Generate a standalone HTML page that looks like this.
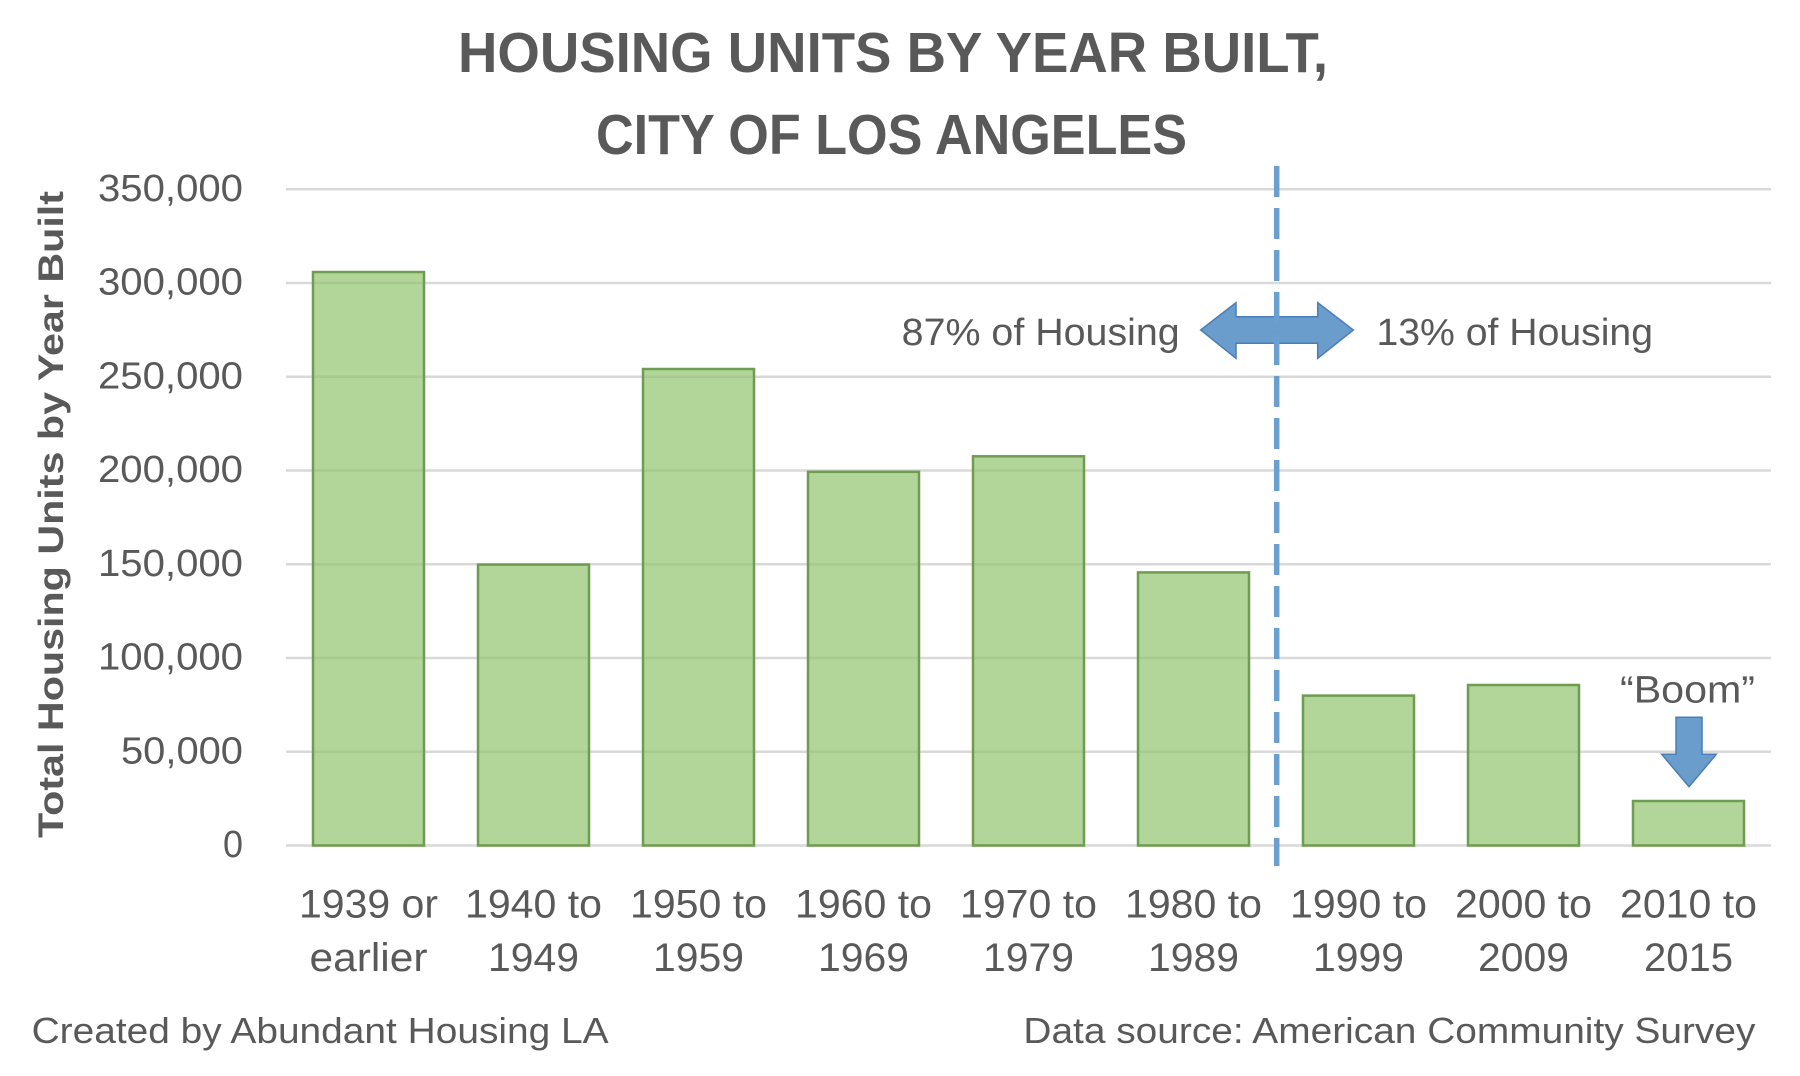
<!DOCTYPE html>
<html>
<head>
<meta charset="utf-8">
<style>
  html, body { margin: 0; padding: 0; background: #ffffff; }
  svg { display: block; }
  text { fill: #595959; font-family: "Liberation Sans", "DejaVu Sans", sans-serif; }
</style>
</head>
<body>
<svg width="1800" height="1076" viewBox="0 0 1800 1076" xmlns="http://www.w3.org/2000/svg">
  <rect x="0" y="0" width="1800" height="1076" fill="#ffffff"/>

  <!-- Title -->
  <text x="458" y="72" font-size="57" font-weight="bold" textLength="870" lengthAdjust="spacingAndGlyphs">HOUSING UNITS BY YEAR BUILT,</text>
  <text x="596" y="154" font-size="57" font-weight="bold" textLength="591" lengthAdjust="spacingAndGlyphs">CITY OF LOS ANGELES</text>

  <!-- Gridlines -->
  <g stroke="#d9d9d9" stroke-width="2.5">
    <line x1="286" y1="189.3" x2="1771" y2="189.3"/>
    <line x1="286" y1="283.0" x2="1771" y2="283.0"/>
    <line x1="286" y1="376.8" x2="1771" y2="376.8"/>
    <line x1="286" y1="470.5" x2="1771" y2="470.5"/>
    <line x1="286" y1="564.3" x2="1771" y2="564.3"/>
    <line x1="286" y1="658.0" x2="1771" y2="658.0"/>
    <line x1="286" y1="751.8" x2="1771" y2="751.8"/>
    <line x1="286" y1="845.5" x2="1771" y2="845.5"/>
  </g>

  <!-- Y tick labels -->
  <g font-size="38" text-anchor="end">
    <text x="243" y="201" textLength="145" lengthAdjust="spacingAndGlyphs">350,000</text>
    <text x="243" y="294.5" textLength="145" lengthAdjust="spacingAndGlyphs">300,000</text>
    <text x="243" y="388.3" textLength="145" lengthAdjust="spacingAndGlyphs">250,000</text>
    <text x="243" y="482" textLength="145" lengthAdjust="spacingAndGlyphs">200,000</text>
    <text x="243" y="575.8" textLength="145" lengthAdjust="spacingAndGlyphs">150,000</text>
    <text x="243" y="669.5" textLength="145" lengthAdjust="spacingAndGlyphs">100,000</text>
    <text x="243" y="763.3" textLength="122" lengthAdjust="spacingAndGlyphs">50,000</text>
    <text x="243" y="857" textLength="20" lengthAdjust="spacingAndGlyphs">0</text>
  </g>

  <!-- Y axis title -->
  <text transform="translate(63,838) rotate(-90)" font-family="'DejaVu Sans', 'Liberation Sans', sans-serif" font-size="35" font-weight="bold" textLength="647" lengthAdjust="spacingAndGlyphs">Total Housing Units by Year Built</text>

  <!-- Bars -->
  <g fill="rgb(146,195,111)" fill-opacity="0.7" stroke="#6e9c50" stroke-width="2.5">
    <rect x="313" y="272.0" width="111" height="573.5"/>
    <rect x="478" y="564.6" width="111" height="280.9"/>
    <rect x="643" y="369.0" width="111" height="476.5"/>
    <rect x="808" y="471.8" width="111" height="373.7"/>
    <rect x="973" y="456.3" width="111" height="389.2"/>
    <rect x="1138" y="572.4" width="111" height="273.1"/>
    <rect x="1303" y="695.6" width="111" height="149.9"/>
    <rect x="1468" y="685.0" width="111" height="160.5"/>
    <rect x="1633" y="801.0" width="111" height="44.5"/>
  </g>

  <!-- Double arrow -->
  <polygon points="1200.7,330 1236,302.7 1236,316.7 1317.7,316.7 1317.7,302.7 1353.3,330 1317.7,358.3 1317.7,343.3 1236,343.3 1236,358.3"
           fill="#6a9dcc" stroke="#4a7eb8" stroke-width="1.5"/>

  <!-- Dashed divider -->
  <line x1="1276.7" y1="166" x2="1276.7" y2="866" stroke="#6b9fcf" stroke-width="5.5" stroke-dasharray="31 11"/>

  <!-- Annotations -->
  <text x="901.7" y="345" font-size="38" textLength="278" lengthAdjust="spacingAndGlyphs">87% of Housing</text>
  <text x="1376.5" y="345" font-size="38" textLength="276.5" lengthAdjust="spacingAndGlyphs">13% of Housing</text>
  <text x="1620" y="702.7" font-size="38" textLength="135" lengthAdjust="spacingAndGlyphs">“Boom”</text>

  <!-- Boom arrow -->
  <polygon points="1676,717.3 1702,717.3 1702,754.3 1716.3,754.3 1689,786.7 1661.7,754.3 1676,754.3"
           fill="#6a9dcc" stroke="#4a7eb8" stroke-width="1.5"/>

  <!-- X labels -->
  <g font-size="40" text-anchor="middle">
    <text x="368.5" y="917.5" textLength="139" lengthAdjust="spacingAndGlyphs">1939 or</text>
    <text x="368.5" y="971" textLength="118" lengthAdjust="spacingAndGlyphs">earlier</text>

    <text x="533.5" y="917.5" textLength="137" lengthAdjust="spacingAndGlyphs">1940 to</text>
    <text x="533.5" y="971" textLength="91" lengthAdjust="spacingAndGlyphs">1949</text>

    <text x="698.5" y="917.5" textLength="137" lengthAdjust="spacingAndGlyphs">1950 to</text>
    <text x="698.5" y="971" textLength="91" lengthAdjust="spacingAndGlyphs">1959</text>

    <text x="863.5" y="917.5" textLength="137" lengthAdjust="spacingAndGlyphs">1960 to</text>
    <text x="863.5" y="971" textLength="91" lengthAdjust="spacingAndGlyphs">1969</text>

    <text x="1028.5" y="917.5" textLength="137" lengthAdjust="spacingAndGlyphs">1970 to</text>
    <text x="1028.5" y="971" textLength="91" lengthAdjust="spacingAndGlyphs">1979</text>

    <text x="1193.5" y="917.5" textLength="137" lengthAdjust="spacingAndGlyphs">1980 to</text>
    <text x="1193.5" y="971" textLength="91" lengthAdjust="spacingAndGlyphs">1989</text>

    <text x="1358.5" y="917.5" textLength="137" lengthAdjust="spacingAndGlyphs">1990 to</text>
    <text x="1358.5" y="971" textLength="91" lengthAdjust="spacingAndGlyphs">1999</text>

    <text x="1523.5" y="917.5" textLength="137" lengthAdjust="spacingAndGlyphs">2000 to</text>
    <text x="1523.5" y="971" textLength="91" lengthAdjust="spacingAndGlyphs">2009</text>

    <text x="1688.5" y="917.5" textLength="137" lengthAdjust="spacingAndGlyphs">2010 to</text>
    <text x="1688.5" y="971" textLength="89" lengthAdjust="spacingAndGlyphs">2015</text>
  </g>

  <!-- Footer -->
  <text x="31.6" y="1043" font-size="36" textLength="577" lengthAdjust="spacingAndGlyphs">Created by Abundant Housing LA</text>
  <text x="1023.4" y="1043" font-size="36" textLength="732" lengthAdjust="spacingAndGlyphs">Data source: American Community Survey</text>
</svg>
</body>
</html>
